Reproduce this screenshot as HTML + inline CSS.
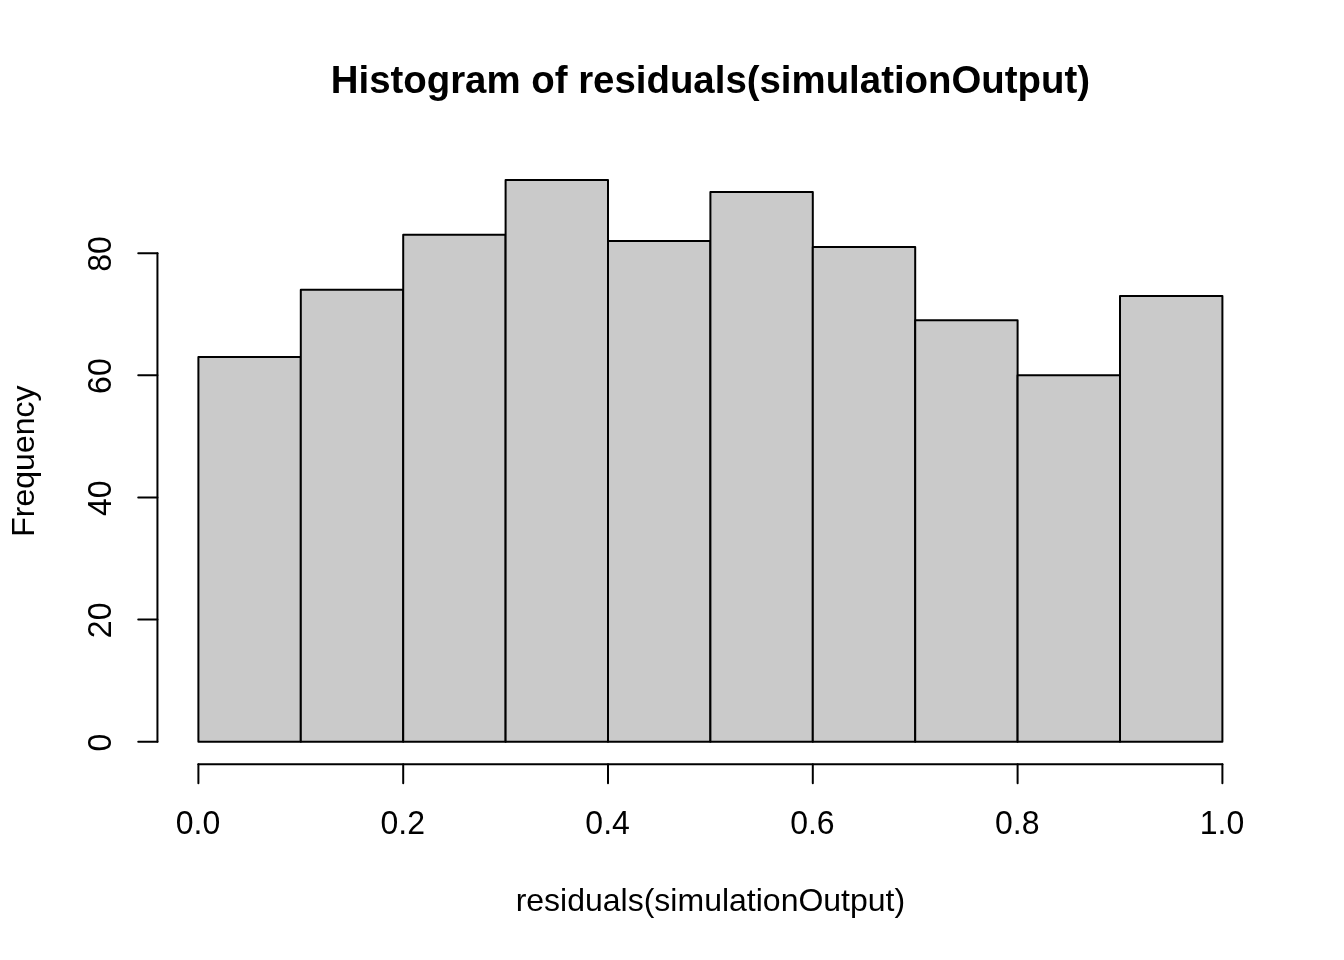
<!DOCTYPE html>
<html><head><meta charset="utf-8"><title>Histogram of residuals(simulationOutput)</title>
<style>
html,body{margin:0;padding:0;background:#fff;width:1344px;height:960px;overflow:hidden}
svg{display:block;filter:grayscale(100%)}
.t{font-family:"Liberation Sans",Arial,Helvetica,sans-serif;font-size:32px;fill:#000}
.m{font-family:"Liberation Sans",Arial,Helvetica,sans-serif;font-size:38.4px;font-weight:bold;fill:#000}
</style></head><body>
<svg width="1344" height="960" viewBox="0 0 1344 960">
<rect width="1344" height="960" fill="#fff"/>
<rect x="198.40" y="356.99" width="102.40" height="384.70" fill="#CACACA" stroke="#000" stroke-width="2" stroke-linejoin="round"/>
<rect x="300.80" y="289.82" width="102.40" height="451.86" fill="#CACACA" stroke="#000" stroke-width="2" stroke-linejoin="round"/>
<rect x="403.20" y="234.87" width="102.40" height="506.82" fill="#CACACA" stroke="#000" stroke-width="2" stroke-linejoin="round"/>
<rect x="505.60" y="179.91" width="102.40" height="561.78" fill="#CACACA" stroke="#000" stroke-width="2" stroke-linejoin="round"/>
<rect x="608.00" y="240.97" width="102.40" height="500.71" fill="#CACACA" stroke="#000" stroke-width="2" stroke-linejoin="round"/>
<rect x="710.40" y="192.12" width="102.40" height="549.57" fill="#CACACA" stroke="#000" stroke-width="2" stroke-linejoin="round"/>
<rect x="812.80" y="247.08" width="102.40" height="494.61" fill="#CACACA" stroke="#000" stroke-width="2" stroke-linejoin="round"/>
<rect x="915.20" y="320.36" width="102.40" height="421.33" fill="#CACACA" stroke="#000" stroke-width="2" stroke-linejoin="round"/>
<rect x="1017.60" y="375.31" width="102.40" height="366.38" fill="#CACACA" stroke="#000" stroke-width="2" stroke-linejoin="round"/>
<rect x="1120.00" y="295.93" width="102.40" height="445.76" fill="#CACACA" stroke="#000" stroke-width="2" stroke-linejoin="round"/>
<line x1="198.40" y1="764.16" x2="1222.40" y2="764.16" stroke="#000" stroke-width="2" stroke-linecap="round"/>
<line x1="198.40" y1="764.16" x2="198.40" y2="783.36" stroke="#000" stroke-width="2" stroke-linecap="round"/>
<line x1="403.20" y1="764.16" x2="403.20" y2="783.36" stroke="#000" stroke-width="2" stroke-linecap="round"/>
<line x1="608.00" y1="764.16" x2="608.00" y2="783.36" stroke="#000" stroke-width="2" stroke-linecap="round"/>
<line x1="812.80" y1="764.16" x2="812.80" y2="783.36" stroke="#000" stroke-width="2" stroke-linecap="round"/>
<line x1="1017.60" y1="764.16" x2="1017.60" y2="783.36" stroke="#000" stroke-width="2" stroke-linecap="round"/>
<line x1="1222.40" y1="764.16" x2="1222.40" y2="783.36" stroke="#000" stroke-width="2" stroke-linecap="round"/>
<text transform="translate(198.00,834) scale(1,1.03)" text-anchor="middle" class="t">0.0</text>
<text transform="translate(402.80,834) scale(1,1.03)" text-anchor="middle" class="t">0.2</text>
<text transform="translate(607.60,834) scale(1,1.03)" text-anchor="middle" class="t">0.4</text>
<text transform="translate(812.40,834) scale(1,1.03)" text-anchor="middle" class="t">0.6</text>
<text transform="translate(1017.20,834) scale(1,1.03)" text-anchor="middle" class="t">0.8</text>
<text transform="translate(1222.00,834) scale(1,1.03)" text-anchor="middle" class="t">1.0</text>
<line x1="157.44" y1="741.69" x2="157.44" y2="253.19" stroke="#000" stroke-width="2" stroke-linecap="round"/>
<line x1="157.44" y1="741.69" x2="138.24" y2="741.69" stroke="#000" stroke-width="2" stroke-linecap="round"/>
<line x1="157.44" y1="619.56" x2="138.24" y2="619.56" stroke="#000" stroke-width="2" stroke-linecap="round"/>
<line x1="157.44" y1="497.44" x2="138.24" y2="497.44" stroke="#000" stroke-width="2" stroke-linecap="round"/>
<line x1="157.44" y1="375.31" x2="138.24" y2="375.31" stroke="#000" stroke-width="2" stroke-linecap="round"/>
<line x1="157.44" y1="253.19" x2="138.24" y2="253.19" stroke="#000" stroke-width="2" stroke-linecap="round"/>
<text transform="translate(111.36,742.49) rotate(-90) scale(1,1.03)" text-anchor="middle" class="t">0</text>
<text transform="translate(111.36,620.36) rotate(-90) scale(1,1.03)" text-anchor="middle" class="t">20</text>
<text transform="translate(111.36,498.24) rotate(-90) scale(1,1.03)" text-anchor="middle" class="t">40</text>
<text transform="translate(111.36,376.11) rotate(-90) scale(1,1.03)" text-anchor="middle" class="t">60</text>
<text transform="translate(111.36,253.99) rotate(-90) scale(1,1.03)" text-anchor="middle" class="t">80</text>
<text x="710.40" y="92.5" text-anchor="middle" class="m">Histogram of residuals(simulationOutput)</text>
<text x="710.40" y="911" text-anchor="middle" class="t">residuals(simulationOutput)</text>
<text transform="translate(34.3,461.10) rotate(-90)" text-anchor="middle" class="t">Frequency</text>
</svg>
</body></html>
